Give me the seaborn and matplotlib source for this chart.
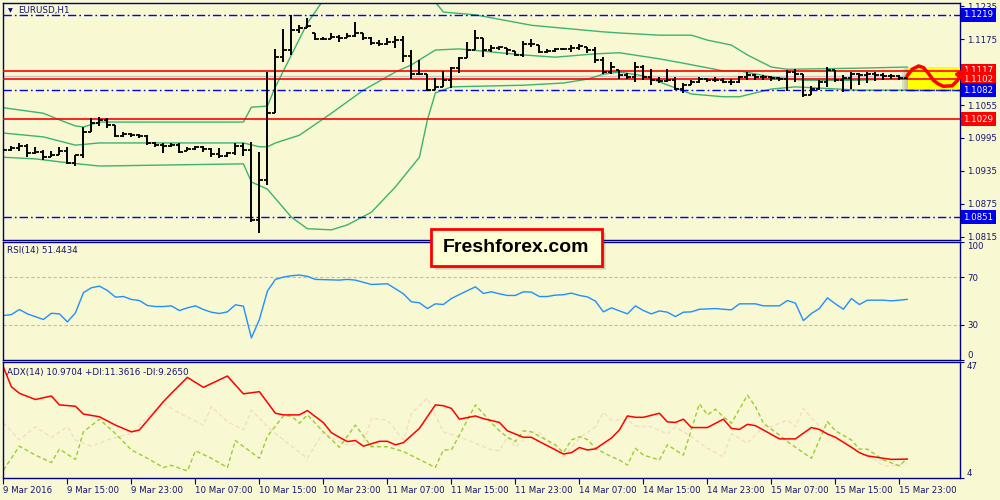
import matplotlib
matplotlib.use("Agg")
import matplotlib.pyplot as plt
import matplotlib.transforms as mtransforms
from matplotlib.patches import Rectangle
import seaborn as sns

# ---------------- data ----------------
bar_opens = [1.0975,1.0973,1.0977,1.0980,1.0968,1.0970,1.0960,1.0964,1.0971,1.0950,
             1.0964,1.1006,1.1022,1.1028,1.1019,1.0999,1.1002,1.1000,1.0999,1.0986,
             1.0982,1.0980,1.0982,1.0971,1.0975,1.0979,1.0975,1.0966,1.0962,1.0968,
             1.0980,1.0973,1.0846,1.0919,1.1040,1.1142,1.1155,1.1191,1.1195,1.1186,
             1.1175,1.1175,1.1179,1.1177,1.1180,1.1186,1.1177,1.1168,1.1166,1.1170,
             1.1173,1.1144,1.1111,1.1111,1.1082,1.1088,1.1100,1.1122,1.1140,1.1155,
             1.1177,1.1155,1.1159,1.1159,1.1153,1.1146,1.1166,1.1164,1.1151,1.1153,
             1.1157,1.1157,1.1159,1.1160,1.1155,1.1137,1.1115,1.1119,1.1110,1.1106,
             1.1124,1.1106,1.1100,1.1099,1.1100,1.1084,1.1091,1.1097,1.1102,1.1100,
             1.1100,1.1097,1.1097,1.1106,1.1110,1.1106,1.1106,1.1104,1.1102,1.1115,
             1.1111,1.1073,1.1084,1.1097,1.1119,1.1100,1.1104,1.1111,1.1110,1.1111,
             1.1110,1.1108,1.1108,1.1104]
bar_highs = [1.0979,1.0980,1.0986,1.0984,1.0979,1.0973,1.0971,1.0979,1.0979,1.0964,
             1.1015,1.1031,1.1033,1.1031,1.1019,1.1006,1.1004,1.1002,1.1000,1.0988,
             1.0986,1.0986,1.0986,1.0979,1.0980,1.0980,1.0977,1.0977,1.0970,1.0986,
             1.0986,1.0988,1.0970,1.1115,1.1157,1.1193,1.1219,1.1200,1.1213,1.1186,
             1.1179,1.1186,1.1182,1.1186,1.1206,1.1186,1.1179,1.1173,1.1177,1.1180,
             1.1180,1.1155,1.1137,1.1111,1.1104,1.1117,1.1124,1.1142,1.1170,1.1191,
             1.1177,1.1164,1.1162,1.1159,1.1153,1.1171,1.1175,1.1164,1.1157,1.1159,
             1.1159,1.1164,1.1166,1.1160,1.1160,1.1142,1.1133,1.1119,1.1113,1.1133,
             1.1128,1.1120,1.1106,1.1120,1.1106,1.1095,1.1100,1.1106,1.1104,1.1106,
             1.1104,1.1102,1.1108,1.1115,1.1111,1.1110,1.1108,1.1106,1.1119,1.1120,
             1.1111,1.1090,1.1100,1.1124,1.1119,1.1110,1.1115,1.1113,1.1115,1.1115,
             1.1113,1.1111,1.1110,1.1110]
bar_lows = [1.0968,1.0971,1.0971,1.0960,1.0966,1.0955,1.0960,1.0964,1.0948,1.0944,
            1.0959,1.1006,1.1017,1.1013,1.0997,1.0997,1.0997,1.0995,1.0982,1.0979,
            1.0968,1.0979,1.0968,1.0971,1.0973,1.0970,1.0960,1.0959,1.0960,1.0964,
            1.0962,1.0842,1.0822,1.0910,1.1040,1.1133,1.1146,1.1186,1.1195,1.1173,
            1.1173,1.1175,1.1170,1.1177,1.1179,1.1173,1.1164,1.1162,1.1164,1.1159,
            1.1133,1.1102,1.1110,1.1080,1.1082,1.1088,1.1086,1.1113,1.1140,1.1155,
            1.1142,1.1151,1.1155,1.1146,1.1144,1.1142,1.1160,1.1150,1.1150,1.1151,
            1.1155,1.1151,1.1155,1.1150,1.1131,1.1111,1.1111,1.1102,1.1102,1.1097,
            1.1100,1.1091,1.1095,1.1097,1.1082,1.1077,1.1091,1.1095,1.1097,1.1097,
            1.1095,1.1091,1.1095,1.1100,1.1100,1.1100,1.1099,1.1099,1.1080,1.1097,
            1.1070,1.1073,1.1082,1.1088,1.1097,1.1079,1.1084,1.1091,1.1095,1.1099,
            1.1100,1.1102,1.1100,1.1102]
bar_closes = [1.0973,1.0977,1.0980,1.0968,1.0970,1.0960,1.0964,1.0971,1.0950,1.0964,
              1.1006,1.1022,1.1028,1.1019,1.0999,1.1002,1.1000,1.0999,1.0986,1.0982,
              1.0980,1.0982,1.0970,1.0975,1.0979,1.0975,1.0966,1.0962,1.0968,1.0980,
              1.0973,1.0846,1.0919,1.1040,1.1142,1.1155,1.1191,1.1195,1.1199,1.1175,
              1.1175,1.1179,1.1177,1.1180,1.1186,1.1177,1.1168,1.1166,1.1170,1.1173,
              1.1144,1.1111,1.1111,1.1082,1.1088,1.1100,1.1122,1.1140,1.1155,1.1177,
              1.1155,1.1159,1.1160,1.1155,1.1146,1.1166,1.1166,1.1151,1.1153,1.1157,
              1.1157,1.1159,1.1162,1.1155,1.1137,1.1115,1.1124,1.1110,1.1106,1.1124,
              1.1106,1.1100,1.1099,1.1100,1.1084,1.1091,1.1097,1.1102,1.1100,1.1100,
              1.1097,1.1097,1.1106,1.1110,1.1106,1.1106,1.1104,1.1102,1.1115,1.1111,
              1.1073,1.1084,1.1097,1.1119,1.1100,1.1104,1.1111,1.1110,1.1111,1.1110,
              1.1108,1.1108,1.1104,1.1108]

bb_up_idx = [0,5,7,9,10,12,30,31,33,34,36,38,40,43,47,51,54,55,59,66,75,77,82,86,88,91,93,96,98,107,113]
bb_up = [1.1050,1.1040,1.1028,1.1017,1.1015,1.1024,1.1024,1.1051,1.1053,1.1088,1.1146,1.1204,1.1246,
         1.1272,1.1285,1.1268,1.1242,1.1224,1.1219,1.1200,1.1188,1.1186,1.1182,1.1182,1.1173,1.1164,
         1.1146,1.1124,1.1120,1.1122,1.1124]
bb_mid_idx = [0,5,9,12,30,32,33,34,37,41,45,49,51,54,57,65,69,74,77,82,85,90,92,96,100,107,113]
bb_mid = [1.1004,1.0997,1.0982,1.0986,1.0986,1.0979,1.0979,1.0986,1.1000,1.1040,1.1082,1.1115,1.1128,
          1.1155,1.1157,1.1146,1.1142,1.1148,1.1150,1.1139,1.1131,1.1117,1.1117,1.1106,1.1100,1.1100,1.1104]
bb_low_idx = [0,4,8,12,30,31,33,36,38,41,43,46,49,52,53,54,56,65,70,73,75,77,80,82,84,86,90,92,96,99,107,113]
bb_low = [1.0960,1.0957,1.0950,1.0944,1.0948,1.0915,1.0902,1.0851,1.0830,1.0828,1.0837,1.0860,1.0906,
          1.0960,1.1028,1.1077,1.1088,1.1091,1.1095,1.1102,1.1111,1.1115,1.1108,1.1097,1.1086,1.1075,
          1.1070,1.1070,1.1084,1.1088,1.1082,1.1082]

level_prices = [1.1219, 1.1117, 1.1102, 1.1082, 1.1029, 1.0851]
level_kinds = ["blue", "red", "red", "blue", "red", "blue"]
bid_price = 1.1108
price_ticks = [1.1235, 1.1175, 1.1055, 1.0995, 1.0935, 1.0875, 1.0815]

rsi_idx = [0,1,2,3,5,6,7,8,9,10,11,12,13,14,15,16,17,18,19,20,21,22,23,24,25,26,27,28,29,30,31,32,33,34,
           35,36,37,38,39,42,43,44,46,48,49,50,51,52,53,54,55,56,57,59,60,61,62,63,64,65,66,67,68,69,70,
           71,72,73,74,75,76,78,79,80,81,82,83,84,85,86,87,89,90,91,92,94,95,97,98,99,100,101,102,103,
           104,105,106,107,108,110,111,112,113]
rsi_val = [37.7,38.5,42.8,39.1,34.3,39.6,39.1,32.3,39.9,57.0,61.2,62.6,58.9,53.3,53.8,51.3,50.4,46.2,45.3,
           45.3,45.9,41.9,44.2,45.9,42.8,40.5,39.4,40.8,46.8,45.6,18.7,34.3,58.4,68.3,70.3,71.4,72.0,70.9,
           68.3,67.7,68.3,67.7,64.0,64.6,60.4,56.1,49.3,48.5,43.6,47.6,47.0,52.1,55.5,62.0,56.4,57.8,56.1,
           54.7,54.7,57.8,57.5,53.8,53.8,55.0,55.3,56.7,54.7,53.5,49.9,40.8,44.2,39.1,45.9,41.9,39.1,41.6,
           40.5,36.8,40.5,40.8,43.0,43.6,43.0,42.5,47.6,47.6,45.9,45.9,50.4,48.2,33.4,39.4,43.6,52.7,47.6,
           43.0,52.1,47.0,50.7,50.7,50.1,50.7,51.4]

adx_idx = [0,1,2,4,6,7,9,10,12,14,16,17,20,21,23,25,28,30,32,34,35,37,38,40,41,42,43,44,45,47,48,49,50,52,
           54,55,56,57,59,60,62,63,65,66,67,70,71,72,73,74,76,77,78,79,80,82,83,84,85,86,88,90,91,92,93,94,
           95,97,99,101,102,103,104,106,107,108,110,111,113]
adx_val = [45.1,37.8,35.4,33.1,34.4,31.1,30.6,27.7,26.7,23.6,21.1,21.8,32.3,35.4,41.3,37.6,41.8,35.2,36.0,
           28.0,27.4,27.4,29.0,24.5,20.8,19.1,17.5,17.9,15.8,17.6,17.6,16.3,17.1,22.4,31.1,30.8,29.8,25.8,
           27.0,26.0,24.6,21.5,19.1,19.1,17.5,12.9,13.4,15.3,14.4,14.8,18.8,21.8,27.0,26.5,26.5,28.0,24.8,
           24.6,25.8,22.7,22.7,25.8,22.4,22.0,23.9,23.4,21.8,18.5,18.5,22.7,22.0,20.3,19.1,15.4,13.4,12.2,
           11.3,10.9,11.0]
pdi_idx = [0,2,4,6,7,9,10,12,14,16,18,20,21,23,24,26,28,29,32,33,35,36,37,38,40,42,44,46,48,50,54,55,56,57,
           59,61,62,63,64,65,66,67,69,70,71,72,73,74,76,77,78,79,80,82,83,85,87,88,89,90,91,93,94,95,97,98,
           101,103,104,106,107,108,110,112,113]
pdi_val = [6.9,15.8,12.5,9.7,14.7,10.9,21.1,25.8,20.5,14.4,11.3,7.9,8.7,6.6,14.1,11.3,7.9,17.9,11.3,19.5,
           27.0,27.0,24.3,27.4,21.1,15.4,23.6,15.6,15.6,13.8,7.9,14.4,14.4,19.9,31.1,24.5,21.5,19.1,17.5,
           21.5,21.1,19.5,16.3,13.4,18.1,19.3,18.3,15.0,11.9,10.7,8.8,15.0,12.5,10.7,16.3,12.5,31.5,27.4,
           29.5,26.7,24.3,34.7,30.5,24.3,19.9,17.5,11.3,24.9,21.5,18.1,14.7,14.7,10.7,8.5,11.4]
mdi_idx = [0,2,4,6,8,9,11,13,16,18,20,22,25,26,28,30,31,33,35,38,40,41,43,45,46,48,50,51,53,55,57,59,61,62,
           63,64,66,67,70,72,74,75,76,78,79,81,83,84,86,88,90,91,93,95,96,97,98,99,100,102,104,105,107,109,
           110,111,113]
mdi_val = [24.5,18.1,23.0,19.1,23.0,18.1,15.8,18.1,20.5,26.7,31.7,28.0,23.6,30.5,24.9,21.8,29.2,23.0,18.1,
           11.3,21.1,18.7,16.3,16.9,26.1,25.5,18.1,28.0,33.6,21.1,19.3,16.9,14.4,14.1,19.3,15.4,21.1,20.8,
           11.9,18.7,23.0,28.3,25.5,25.5,23.3,23.0,20.3,23.0,19.3,15.0,11.9,20.5,16.9,23.0,23.0,24.3,25.5,
           23.0,29.8,23.0,18.1,18.1,13.2,10.7,8.5,8.5,9.3]

time_tick_idx = [0, 8, 16, 24, 32, 40, 48, 56, 64, 72, 80, 88, 96, 104, 112]
time_labels = ["9 Mar 2016", "9 Mar 15:00", "9 Mar 23:00", "10 Mar 07:00", "10 Mar 15:00",
               "10 Mar 23:00", "11 Mar 07:00", "11 Mar 15:00", "11 Mar 23:00", "14 Mar 07:00",
               "14 Mar 15:00", "14 Mar 23:00", "15 Mar 07:00", "15 Mar 15:00", "15 Mar 23:00"]

# forecast sketch (hand drawn annotation)
wave_idx = [112.96, 113.6, 114.4, 115.0, 115.6, 116.25, 116.9, 117.5, 118.6, 119.2]
wave_price = [1.1108, 1.1120, 1.1126, 1.1123, 1.1113, 1.1100, 1.1093, 1.1089, 1.1090, 1.1099]
wave_tip = (120.5, 1.1124)

# ---------------- style ----------------
BG = "#F8F8D2"
NAVY = "#000080"
TXT = "#14146e"
sns.set_style("white")
plt.rcParams["font.family"] = ["DejaVu Sans"]
plt.rcParams["axes.linewidth"] = 1.0

fig = plt.figure(figsize=(10, 5), dpi=100, facecolor=BG)


def rect(l, t, r, b):
    return [l / 1000, 1 - b / 500, (r - l) / 1000, (b - t) / 500]


ax_p = fig.add_axes(rect(3, 3, 960, 240))
ax_r = fig.add_axes(rect(3, 242, 960, 360))
ax_a = fig.add_axes(rect(3, 362, 960, 478))

X0 = -0.05
X1 = X0 + 957 / 8
for ax in (ax_p, ax_r, ax_a):
    ax.set_facecolor(BG)
    for s in ax.spines.values():
        s.set_color(NAVY)
        s.set_linewidth(1.0)
    ax.yaxis.tick_right()
    ax.tick_params(axis="y", direction="out", length=3, width=0.8, color=NAVY,
                   labelsize=6.2, labelcolor=TXT, pad=2, left=False, right=True)
    ax.tick_params(axis="x", bottom=False, labelbottom=False)

# ---------------- price panel ----------------
idx = list(range(len(bar_closes)))
sns.lineplot(x=bb_up_idx, y=bb_up, ax=ax_p, color="#3cb371", lw=1.0, estimator=None, sort=False, zorder=2)
sns.lineplot(x=bb_mid_idx, y=bb_mid, ax=ax_p, color="#3cb371", lw=1.0, estimator=None, sort=False, zorder=2)
sns.lineplot(x=bb_low_idx, y=bb_low, ax=ax_p, color="#3cb371", lw=1.0, estimator=None, sort=False, zorder=2)

ax_p.axhline(bid_price, color="#c8c8c8", lw=1.0, zorder=1)
for p, k in zip(level_prices, level_kinds):
    if k == "blue":
        ax_p.axhline(p, color="#0000ff", lw=1.0, ls=(0, (6, 2.2, 1.2, 2.2)), zorder=3)
    else:
        ax_p.axhline(p, color="#ff0000", lw=1.2, zorder=3)

ax_p.vlines(idx, bar_lows, bar_highs, color="black", lw=1.4, zorder=4)
ax_p.hlines(bar_opens, [i - 0.42 for i in idx], idx, color="black", lw=1.3, zorder=4)
ax_p.hlines(bar_closes, idx, [i + 0.42 for i in idx], color="black", lw=1.3, zorder=4)

ax_p.set_xlim(X0, X1)
ax_p.set_ylim(1.08095, 1.12405)
ax_p.set_yticks(price_ticks, labels=[f"{v:.4f}" for v in price_ticks])
ax_p.set_xlabel("")
ax_p.set_ylabel("")

# yellow highlight with shadow + forecast sketch
for k, a in enumerate([0.10, 0.10, 0.12]):
    ax_p.add_patch(Rectangle((113.1 - 0.25 * (k + 1), 1.1085 - 0.00018 * (k + 1)), 6.5, 0.0040,
                             facecolor="#404040", edgecolor="none", alpha=a, zorder=5, clip_on=False))
ax_p.add_patch(Rectangle((113.1, 1.1085), 6.5, 0.0040, facecolor="#ffff00", edgecolor="none",
                         zorder=6, clip_on=False))
ax_p.axhline(1.1082, xmin=(113.1 - X0) / (X1 - X0), color="#0000ff", lw=1.0,
             ls=(0, (6, 2.2, 1.2, 2.2)), zorder=6.5)
for p in (1.1117, 1.1102):
    ax_p.axhline(p, xmin=(113.1 - X0) / (X1 - X0), color="#ff0000", lw=1.2, zorder=6.5)
ax_p.plot(wave_idx, wave_price, color="#ff0000", lw=2.5, zorder=9, clip_on=False,
          solid_capstyle="round", solid_joinstyle="round")
ax_p.annotate("", xy=wave_tip, xytext=(wave_idx[-1], wave_price[-1]),
              arrowprops=dict(arrowstyle="-|>", color="#ff0000", lw=2.5, mutation_scale=15,
                              shrinkA=0, shrinkB=0),
              annotation_clip=False, zorder=9)

# coloured price labels on the right axis
trans = mtransforms.blended_transform_factory(ax_p.transAxes, ax_p.transData)
for p, k in zip(level_prices, level_kinds):
    fc = "#0000f0" if k == "blue" else "#ff0000"
    ax_p.text(1.0035, p, f"{p:.4f}", transform=trans, ha="left", va="center", fontsize=6.2,
              color="white", zorder=8, clip_on=False,
              bbox=dict(boxstyle="square,pad=0.3", facecolor=fc, edgecolor="none"))

fig.text(0.008, 1 - 11 / 500, "\u25bc", fontsize=4.5, color=NAVY, va="center")
fig.text(0.018, 1 - 11 / 500, "EURUSD,H1", fontsize=6.3, color=TXT, va="center")

# ---------------- RSI panel ----------------
ax_r.axhline(70, color="#bdbdbd", lw=0.8, ls=(0, (3, 2)))
ax_r.axhline(30, color="#bdbdbd", lw=0.8, ls=(0, (3, 2)))
sns.lineplot(x=rsi_idx, y=rsi_val, ax=ax_r, color="#1e90ff", lw=1.0, estimator=None, sort=False)
ax_r.set_xlim(X0, X1)
ax_r.set_ylim(0, 100)
ax_r.set_yticks([100, 70, 30, 0], labels=["100", "70", "30", "0"])
ax_r.set_xlabel("")
ax_r.set_ylabel("")
fig.text(0.007, 1 - 251 / 500, "RSI(14) 51.4434", fontsize=6.3, color=TXT, va="center")

# ---------------- ADX panel ----------------
sns.lineplot(x=mdi_idx, y=mdi_val, ax=ax_a, color="#f7dcc6", lw=1.0, ls=(0, (3, 2)),
             estimator=None, sort=False)
sns.lineplot(x=pdi_idx, y=pdi_val, ax=ax_a, color="#9acd32", lw=1.0, ls=(0, (3, 2)),
             estimator=None, sort=False)
sns.lineplot(x=adx_idx, y=adx_val, ax=ax_a, color="#ff0000", lw=1.1, estimator=None, sort=False)
ax_a.set_xlim(X0, X1)
ax_a.set_ylim(4, 47)
ax_a.set_yticks([47, 4], labels=["47", "4"])
ax_a.set_xlabel("")
ax_a.set_ylabel("")
ax_a.set_xticks(time_tick_idx, labels=time_labels)
ax_a.tick_params(axis="x", bottom=True, labelbottom=True, direction="out", length=4, width=0.8,
                 color=NAVY, labelsize=6.2, labelcolor=TXT, pad=2)
for lbl in ax_a.get_xticklabels():
    lbl.set_ha("left")
fig.text(0.007, 1 - 372 / 500, "ADX(14) 10.9704 +DI:11.3616 -DI:9.2650", fontsize=6.3, color=TXT,
         va="center")

# end labels of bounded indicator scales sit inside the panel
for ax in (ax_r, ax_a):
    labs = ax.get_yticklabels()
    labs[0].set_va("top")
    labs[-1].set_va("bottom")

# ---------------- watermark box ----------------
bx0, by0, bw, bh = 431 / 1000, 1 - 266 / 500, 171 / 1000, 37 / 500
for k, a in enumerate([0.18, 0.14, 0.10]):
    fig.add_artist(Rectangle((bx0 + (2 + k) / 1000, by0 - (2 + k) / 500), bw, bh,
                             transform=fig.transFigure, facecolor="#303030", edgecolor="none",
                             alpha=a, zorder=20))
fig.add_artist(Rectangle((bx0, by0), bw, bh, transform=fig.transFigure, facecolor="#FFFFD6",
                         edgecolor="#ff0000", linewidth=2.0, zorder=21))
fig.text(bx0 + bw / 2, by0 + bh / 2, "Freshforex.com", ha="center", va="center",
         fontsize=14, fontweight="bold", family=["Liberation Sans", "DejaVu Sans"],
         color="black", zorder=22)

fig.savefig("out.png", dpi=100, facecolor=BG)
